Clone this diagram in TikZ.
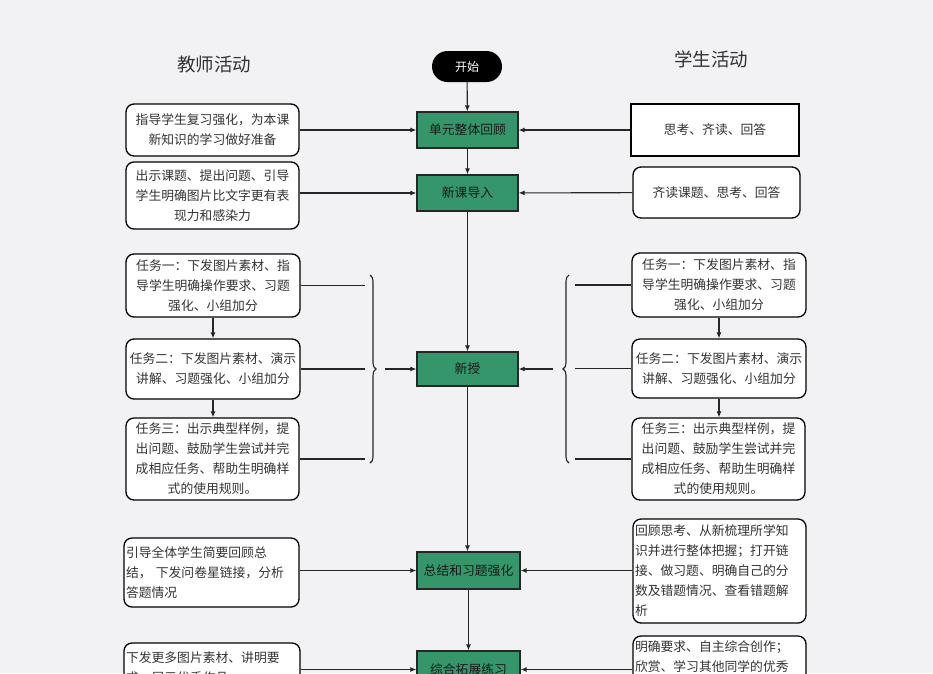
\documentclass[tikz,border=0pt]{standalone}
\usepackage{fontspec}
\setmainfont{Noto Sans CJK SC}
\usetikzlibrary{arrows.meta,decorations.pathreplacing}
\definecolor{bgc}{RGB}{242,242,245}
\definecolor{procgreen}{RGB}{52,150,106}
\definecolor{txt}{RGB}{51,51,51}
\begin{document}
\begin{tikzpicture}[x=1pt,y=-1pt,
  every node/.style={font=\fontsize{12.8}{20}\selectfont, text=txt},
  proc/.style={draw=black!85, line width=1.3pt, fill=procgreen, minimum width=101pt, minimum height=36pt, inner sep=0pt, text=black!90},
  act/.style={draw=black, line width=1.3pt, rounded corners=8pt, fill=white, align=center, inner sep=1pt},
  actl/.style={draw=black, line width=1.3pt, rounded corners=8pt, fill=white, align=left, inner sep=2pt},
  conn/.style={draw=black!85, line width=1.1pt, -{Latex[length=6pt,width=5pt]}},
  plain/.style={draw=black!85, line width=1.1pt},
  title/.style={font=\fontsize{18.5}{22}\selectfont, text=black!80}
]
\useasboundingbox (0,0) rectangle (933,673);
\fill[bgc] (0,0) rectangle (933,673);
\clip (0,0) rectangle (933,673);

% titles
\node[title] (tt) at (214,64) {教师活动};
\node[title] (ts) at (711,59) {学生活动};

% start
\node[fill=black, rounded corners=15.5pt, minimum width=70pt, minimum height=31pt, inner sep=0pt, text=white, font=\fontsize{12}{14}\selectfont] (start) at (467,66.5) {开始};

% process column
\node[proc] (p1) at (467.5,130) {单元整体回顾};
\node[proc] (p2) at (467.5,193) {新课导入};
\node[proc, minimum height=34pt] (p3) at (467.5,369) {新授};
\node[proc, minimum width=103pt, minimum height=37pt] (p4) at (468.5,570.5) {总结和习题强化};
\node[proc, minimum width=103pt, minimum height=37pt] (p5) at (468.5,669.5) {综合拓展练习};

% teacher column
\node[act, minimum width=173pt, minimum height=52pt] (l1) at (212.5,130) {指导学生复习强化，为本课\\新知识的学习做好准备};
\node[act, minimum width=173pt, minimum height=67pt] (l2) at (212.5,195.5) {出示课题、提出问题、引导\\学生明确图片比文字更有表\\现力和感染力};
\node[act, minimum width=174pt, minimum height=63pt] (l3) at (213,285.5) {任务一：下发图片素材、指\\导学生明确操作要求、习题\\强化、小组加分};
\node[act, minimum width=174pt, minimum height=60pt] (l4) at (213,369) {任务二：下发图片素材、演示\\讲解、习题强化、小组加分};
\node[act, minimum width=173pt, minimum height=82pt] (l5) at (212.5,459) {任务三：出示典型样例，提\\出问题、鼓励学生尝试并完\\成相应任务、帮助生明确样\\式的使用规则。};
\node[actl, text width=171pt, minimum height=69pt] (l6) at (211.5,572.5) {引导全体学生简要回顾总\\结，~下发问卷星链接，分析\\答题情况};
\node[actl, text width=172pt, minimum height=50pt] (l7) at (212,668) {下发更多图片素材、讲明要\\求，展示优秀作品};

% student column
\node[draw=black, line width=1.3pt, fill=white, minimum width=168pt, minimum height=52pt, inner sep=1pt] (r1) at (715,130) {思考、齐读、回答};
\node[act, minimum width=167pt, minimum height=51pt] (r2) at (716.5,192.5) {齐读课题、思考、回答};
\node[act, minimum width=174pt, minimum height=64pt] (r3) at (719,285) {任务一：下发图片素材、指\\导学生明确操作要求、习题\\强化、小组加分};
\node[act, minimum width=174pt, minimum height=59pt] (r4) at (719,368.5) {任务二：下发图片素材、演示\\讲解、习题强化、小组加分};
\node[act, minimum width=173pt, minimum height=82pt] (r5) at (718.5,459) {任务三：出示典型样例，提\\出问题、鼓励学生尝试并完\\成相应任务、帮助生明确样\\式的使用规则。};
\node[actl, text width=169pt, minimum height=104pt] (r6) at (719.5,571) {回顾思考、从新梳理所学知\\识并进行整体把握；打开链\\接、做习题、明确自己的分\\数及错题情况、查看错题解\\析};
\node[actl, text width=169pt, minimum height=62pt] (r7) at (719.5,667) {明确要求、自主综合创作；\\欣赏、学习其他同学的优秀\\作品};

% main flow
\draw[conn] (start) -- (p1);
\draw[conn] (p1) -- (p2);
\draw[conn] (p2) -- (p3);
\draw[conn] (p3.south) -- (p3.south |- p4.north);
\draw[conn] (p4) -- (p5);

% teacher connectors
\draw[conn] (l1) -- (p1);
\draw[conn] (l2.east |- p2.west) -- (p2.west);
\draw[conn] (l3) -- (l4);
\draw[conn] (l4.south) -- (l4.south |- l5.north);
\draw[conn] (p4.west -| l6.east) -- (p4.west);
\draw[conn] (p5.west -| l7.east) -- (p5.west);

% student connectors
\draw[conn] (r1) -- (p1);
\draw[conn] (r2) -- (p2);
\draw[conn] (r3) -- (r4);
\draw[conn] (r4.south) -- (r4.south |- r5.north);
\draw[conn] (p4.east -| r6.west) -- (p4.east);
\draw[conn] (p5.east -| r7.west) -- (p5.east);

% left brace
\coordinate (lbx) at (365,0);
\coordinate (lbt) at (370,275);
\coordinate (lbb) at (370,463);
\coordinate (lba) at (385,369);
\draw[plain] (l3.east) -- (l3.east -| lbx);
\draw[plain] (l4.east) -- (l4.east -| lbx);
\draw[plain] (l5.east) -- (l5.east -| lbx);
\draw[plain, decorate, decoration={brace, amplitude=6pt}] (lbt) -- (lbb);
\draw[conn] (lba) -- (p3.west);

% right brace
\coordinate (rbx) at (575,0);
\coordinate (rbt) at (569,275);
\coordinate (rbb) at (569,463);
\coordinate (rba) at (553,369);
\draw[plain] (r3.west) -- (r3.west -| rbx);
\draw[plain] (r4.west) -- (r4.west -| rbx);
\draw[plain] (r5.west) -- (r5.west -| rbx);
\draw[plain, decorate, decoration={brace, amplitude=6pt}] (rbb) -- (rbt);
\draw[conn] (rba) -- (p3.east);
\end{tikzpicture}
\end{document}
